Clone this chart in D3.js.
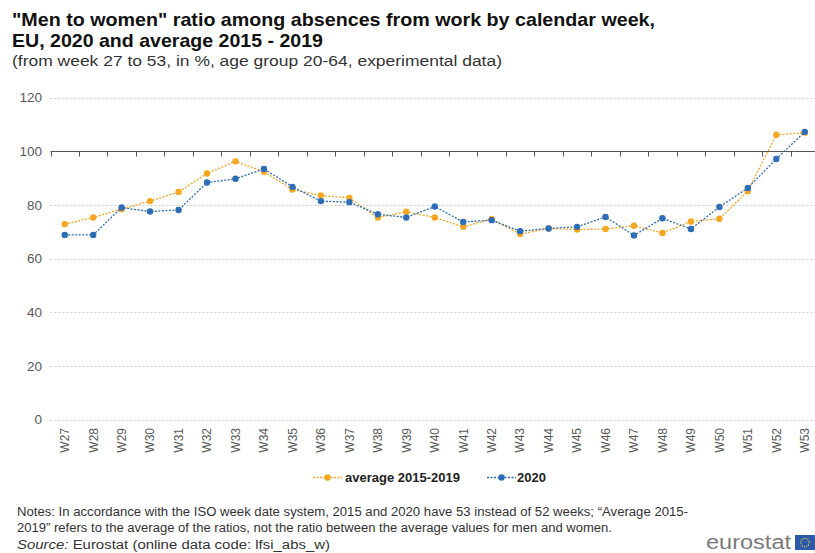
<!DOCTYPE html>
<html>
<head>
<meta charset="utf-8">
<script src="https://cdn.jsdelivr.net/npm/d3@7"></script>
<style>
  html, body { margin: 0; padding: 0; background: #fff; }
  svg { display: block; font-family: "Liberation Sans", Arial, sans-serif; }
</style>
</head>
<body>
<svg id="chart" width="815" height="553"></svg>
<script>
// Calendar weeks shown on the category axis
const weeks = ["W27","W28","W29","W30","W31","W32","W33","W34","W35","W36","W37","W38","W39",
               "W40","W41","W42","W43","W44","W45","W46","W47","W48","W49","W50","W51","W52","W53"];

// "Men to women" ratio, average of 2015-2019 (%)
const avg2015_2019 = [72.8, 75.3, 78.4, 81.4, 84.8, 91.7, 96.2, 92.3, 85.7, 83.5, 82.6, 75.3, 77.4,
                      75.3, 71.8, 74.7, 69.1, 71.2, 70.8, 71.0, 72.2, 69.5, 73.8, 74.8, 85.1, 106.1, 106.9];

// "Men to women" ratio, 2020 (%)
const y2020 = [68.8, 68.8, 79.0, 77.5, 78.1, 88.3, 89.7, 93.4, 86.7, 81.4, 81.0, 76.5, 75.3,
               79.4, 73.6, 74.3, 70.2, 71.2, 71.8, 75.5, 68.6, 75.0, 71.0, 79.2, 86.3, 97.1, 107.2];

// Value axis ticks; the category axis crosses at 100
const yTicks = [0, 20, 40, 60, 80, 100, 120];
const axisCross = 100;

const seriesNames = ["average 2015-2019", "2020"];
const seriesColors = ["#f7a623", "#2c6db5"];

const svg = d3.select("#chart");

const x = d3.scaleBand().domain(weeks).range([50.5, 819]).padding(0);
const cx = w => x(w) + x.bandwidth() / 2;
const y = d3.scaleLinear().domain([0, 120]).range([419.5, 97.5]);

// Horizontal gridlines (dotted), except where the category axis sits
svg.append("g").selectAll("line")
  .data(yTicks.filter(t => t !== axisCross))
  .join("line")
  .attr("x1", 50.5).attr("x2", 815)
  .attr("y1", d => Math.round(y(d)) + 0.5).attr("y2", d => Math.round(y(d)) + 0.5)
  .attr("stroke", "#cfcfcf").attr("stroke-width", 1)
  .attr("stroke-dasharray", "2,2");

// Value axis labels
const yAxis = d3.axisLeft(y).tickValues(yTicks).tickSize(0).tickPadding(0);
svg.append("g")
  .attr("transform", "translate(42,0)")
  .call(yAxis)
  .call(g => g.select(".domain").remove())
  .call(g => g.selectAll("text")
    .attr("font-size", 13.5).attr("fill", "#5a5a5a")
    .attr("font-family", "\"Liberation Sans\", Arial, sans-serif"));

// Category axis line at 100 with ticks at band boundaries
const axisY = Math.round(y(axisCross)) + 0.5;
const boundaries = weeks.map(w => x(w)).concat([x(weeks[weeks.length - 1]) + x.bandwidth()]);
const catAxis = svg.append("g");
catAxis.append("line")
  .attr("x1", 50.5).attr("x2", 819)
  .attr("y1", axisY).attr("y2", axisY)
  .attr("stroke", "#555").attr("stroke-width", 1.2);
catAxis.selectAll("line.tick")
  .data(boundaries)
  .join("line").attr("class", "tick")
  .attr("x1", d => Math.round(d) + 0.5).attr("x2", d => Math.round(d) + 0.5)
  .attr("y1", axisY).attr("y2", axisY + 5)
  .attr("stroke", "#555").attr("stroke-width", 1);

// Week labels, rotated, below the plot
const xAxis = d3.axisBottom(x).tickSize(0).tickPadding(0);
svg.append("g")
  .attr("transform", "translate(0,428)")
  .call(xAxis)
  .call(g => g.select(".domain").remove())
  .call(g => g.selectAll("text")
    .attr("transform", "rotate(-90)")
    .attr("text-anchor", "end")
    .attr("x", 0).attr("y", 0).attr("dy", "0.36em")
    .attr("font-size", 12).attr("fill", "#5a5a5a")
    .attr("font-family", "\"Liberation Sans\", Arial, sans-serif"));

// Series: dotted lines with round markers
const series = [avg2015_2019, y2020];
const line = d3.line().x((d, i) => cx(weeks[i])).y(d => y(d));
series.forEach((vals, k) => {
  const g = svg.append("g");
  g.append("path")
    .datum(vals)
    .attr("d", line)
    .attr("fill", "none")
    .attr("stroke", seriesColors[k])
    .attr("stroke-width", 1.3)
    .attr("stroke-dasharray", "2,1.5");
  g.selectAll("circle")
    .data(vals)
    .join("circle")
    .attr("cx", (d, i) => cx(weeks[i]))
    .attr("cy", d => y(d))
    .attr("r", 3.2)
    .attr("fill", seriesColors[k]);
});

// Legend
const legendItems = [{x: 313, tx: 345}, {x: 487, tx: 517}];
legendItems.forEach((p, k) => {
  const g = svg.append("g");
  g.append("line")
    .attr("x1", p.x).attr("x2", p.x + 29)
    .attr("y1", 477.5).attr("y2", 477.5)
    .attr("stroke", seriesColors[k]).attr("stroke-width", 1.3)
    .attr("stroke-dasharray", "2,1.5");
  g.append("circle")
    .attr("cx", p.x + 14.5).attr("cy", 477.5).attr("r", 3.2)
    .attr("fill", seriesColors[k]);
  g.append("text")
    .attr("x", p.tx).attr("y", 482)
    .attr("font-size", 13).attr("font-weight", "bold").attr("fill", "#222")
    .text(seriesNames[k]);
});

// Title and subtitle
svg.append("text")
  .attr("x", 12).attr("y", 26)
  .attr("font-size", 19).attr("font-weight", "bold").attr("fill", "#111")
  .attr("textLength", 643).attr("lengthAdjust", "spacingAndGlyphs")
  .text("\"Men to women\" ratio among absences from work by calendar week,");
svg.append("text")
  .attr("x", 12).attr("y", 47)
  .attr("font-size", 19).attr("font-weight", "bold").attr("fill", "#111")
  .attr("textLength", 311).attr("lengthAdjust", "spacingAndGlyphs")
  .text("EU, 2020 and average 2015 - 2019");
svg.append("text")
  .attr("x", 12).attr("y", 66)
  .attr("font-size", 15.5).attr("fill", "#333")
  .attr("textLength", 490).attr("lengthAdjust", "spacingAndGlyphs")
  .text("(from week 27 to 53, in %, age group  20-64, experimental  data)");

// Notes and source
const narrow = "\"Liberation Sans Narrow\", \"Arial Narrow\", \"Liberation Sans\", sans-serif";
svg.append("text")
  .attr("x", 17).attr("y", 516)
  .attr("font-size", 12.5).attr("fill", "#333").attr("font-family", narrow)
  .attr("textLength", 671).attr("lengthAdjust", "spacingAndGlyphs")
  .text("Notes: In accordance with the ISO week date system, 2015 and 2020 have  53 instead of 52 weeks; \u201cAverage 2015-");
svg.append("text")
  .attr("x", 17).attr("y", 532)
  .attr("font-size", 12.5).attr("fill", "#333").attr("font-family", narrow)
  .attr("textLength", 595).attr("lengthAdjust", "spacingAndGlyphs")
  .text("2019\u201d refers to the average of the ratios, not the ratio between the average values for men and women.");
const src = svg.append("text")
  .attr("x", 17).attr("y", 549)
  .attr("font-size", 12.5).attr("fill", "#333").attr("font-family", narrow)
  .attr("textLength", 313).attr("lengthAdjust", "spacingAndGlyphs");
src.append("tspan").attr("font-style", "italic").text("Source:");
src.append("tspan").text(" Eurostat (online data code: lfsi_abs_w)");

// Eurostat wordmark with flag box
svg.append("text")
  .attr("x", 706).attr("y", 548.5)
  .attr("font-size", 20).attr("fill", "#7a7a7a")
  .attr("textLength", 85).attr("lengthAdjust", "spacingAndGlyphs")
  .text("eurostat");
svg.append("rect")
  .attr("x", 795).attr("y", 535).attr("width", 20).attr("height", 15)
  .attr("fill", "#2c5aa8");
svg.append("circle")
  .attr("cx", 805).attr("cy", 542.5).attr("r", 4.2)
  .attr("fill", "none").attr("stroke", "#f0d43a").attr("stroke-width", 1.2)
  .attr("stroke-dasharray", "1,1.2");
</script>
</body>
</html>
